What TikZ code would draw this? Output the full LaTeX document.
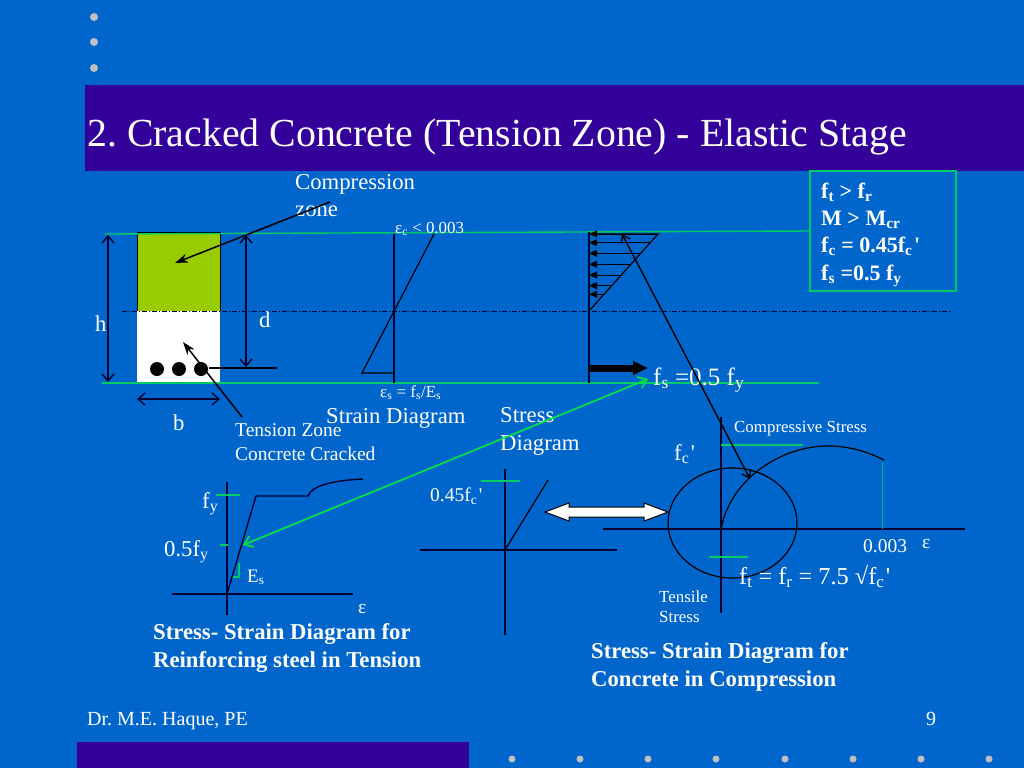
\documentclass[tikz,border=0pt]{standalone}
\usepackage{fontspec}
\setmainfont{Liberation Serif}
\usetikzlibrary{arrows.meta}

\definecolor{slidebg}{HTML}{0066CC}
\definecolor{barcol}{HTML}{330099}
\definecolor{dotcol}{HTML}{C0C0C0}
\definecolor{zonecol}{HTML}{99CC00}
\definecolor{edgecol}{HTML}{00CC66}
\definecolor{linkcol}{HTML}{00E840}
\definecolor{inkcol}{HTML}{000033}

\newcommand{\prm}{\kern1.5pt\textquotesingle}
\frenchspacing

\tikzset{
	lbl/.style={anchor=base west, inner sep=0pt, text=white, align=left},
	lblhuge/.style={lbl, font=\fontsize{24.3}{28}\selectfont},
	lblbig/.style={lbl, font=\fontsize{22.7}{28}\selectfont},
	lblmid/.style={lbl, font=\fontsize{19.5}{24}\selectfont},
	lblsmall/.style={lbl, font=\fontsize{16.9}{20}\selectfont},
	lblbold/.style={lbl, font=\fontsize{22.7}{27.7}\selectfont\bfseries},
	lblfoot/.style={lbl, font=\fontsize{20}{24}\selectfont},
	axis/.style={draw=inkcol, line width=1.4pt},
	thin line/.style={draw=black, line width=1.2pt},
	guide/.style={draw=edgecol, line width=1.4pt},
	dimarrow/.style={inkcol, line width=1.4pt, <->, >={Straight Barb[length=7,width=12]}},
	openarrow/.style={black, line width=1.4pt, <->, >={Straight Barb[length=7,width=10]}},
	linkarrow/.style={linkcol, line width=1.6pt, <->, >={Straight Barb[length=8,width=12]}},
	solidarrow/.style={black, line width=1.5pt, -{Stealth[length=13,width=9]}},
	forcearrow/.style={black, line width=1pt, -{Triangle[length=8,width=7]}}
}

\begin{document}
\begin{tikzpicture}[x=1pt, y=-1pt]
\useasboundingbox (0, 0) rectangle (1024, 768);
\fill[slidebg] (0, 0) rectangle (1024, 768);

% slide furniture
\fill[barcol] (85, 85) rectangle (1024, 171);
\fill[barcol] (77, 742) rectangle (469, 768);
\foreach \ya in {17, 42, 68} {
	\fill[dotcol] (94, \ya) circle (4);
}
\foreach \xa in {512, 580, 648, 716, 785, 853, 921, 989} {
	\fill[dotcol] (\xa, 759) circle (3.5);
}
\node[lbl, font=\fontsize{39.8}{44}\selectfont] (title) at (87, 146) {2. Cracked Concrete (Tension Zone) - Elastic Stage};
\node[lblfoot] (author) at (87, 725) {Dr. M.E. Haque, PE};
\node[lblfoot] (pageno) at (926, 725) {9};

% beam section
\fill[zonecol] (137, 232) rectangle (220, 311);
\fill[white] (137, 311) rectangle (220, 382);
\draw[black, line width=1pt] (137, 311) -- (137, 232) -- (220, 232) -- (220, 311);
\foreach \xa in {157, 179, 201} {
	\fill[black] (\xa, 369) circle (7);
}
\draw[guide] (105, 234) -- (810, 231);
\draw[guide] (102, 383) -- (819, 383);
\draw[inkcol, line width=0.8pt, dash pattern=on 5pt off 2pt on 1pt off 2pt] (122, 311) -- (950, 311);

\draw[dimarrow] (108, 235) -- (108, 382);
\draw[dimarrow] (246, 235) -- (246, 367);
\draw[dimarrow] (137, 399) -- (220, 399);
\draw[thin line] (209, 368) -- (277, 368);
\node[lblbig] (hlabel) at (95, 331) {h};
\node[lblbig] (dlabel) at (259, 327) {d};
\node[lblbig] (blabel) at (173, 430) {b};

\node[lbl, font=\fontsize{22.7}{27.5}\selectfont] (zonelabel) at (295, 216.5) {Compression\\zone};
\node[lblmid] (tensionlabel) at (235, 460) {Tension Zone\\Concrete Cracked};
\coordinate (zonetail) at (330, 202);
\coordinate (zonetip) at (175, 263);
\coordinate (tensiontail) at (242, 417);
\coordinate (tensiontip) at (183, 342);
\draw[solidarrow] (zonetail) -- (zonetip);
\draw[solidarrow] (tensiontail) -- (tensiontip);

% strain diagram
\draw[axis] (394, 234) -- (394, 383);
\draw[thin line] (434, 234) -- (362, 373) -- (394, 373);
\node[lblsmall] (straintop) at (395, 233) {ε\textsubscript{c} < 0.003};
\node[lblsmall] (strainbot) at (380, 397) {ε\textsubscript{s} = f\textsubscript{s}/E\textsubscript{s}};
\node[lblbig] (strainlabel) at (326, 423) {Strain Diagram};

% stress diagram
\draw[axis] (589, 232) -- (589, 383);
\draw[thin line] (589, 234) -- (658, 234) -- (589, 311);
\foreach \ya in {234, 242.7, 253.3, 264.3, 275, 285.7, 294.3} {
	\pgfmathsetmacro{\xa}{658 - (\ya - 234) * 69 / 77}
	\draw[forcearrow] (\xa, \ya) -- (589, \ya);
}
\draw[black, line width=7pt, -{Triangle[length=15,width=13]}] (589, 368) -- (648, 368);
\node[lbl, font=\fontsize{25}{28}\selectfont] (steellabel) at (653, 385) {f\textsubscript{s} =0.5 f\textsubscript{y}};
\node[lblbig] (stresslabel) at (500, 450) {Stress\\Diagram};

% conditions box
\node[lbl, font=\fontsize{22}{27.3}\selectfont\bfseries] (condtext) at (821, 280) {f\textsubscript{t} > f\textsubscript{r}\\M > M\textsubscript{cr}\\f\textsubscript{c} = 0.45f\textsubscript{c}\prm\\f\textsubscript{s} =0.5 f\textsubscript{y}};
\draw[guide, line width=1.8pt] (810, 171) rectangle (956, 291);

% steel stress-strain
\draw[axis] (227, 482) -- (227, 615);
\draw[axis] (172, 594) -- (353, 594);
\draw[axis] (227, 594) -- (256, 496) -- (308, 496) .. controls (312, 484) and (340, 480) .. (363, 479);
\draw[guide] (216, 495) -- (240, 495);
\draw[guide] (220, 545) -- (228, 545);
\draw[guide] (239, 563) -- (239, 577) -- (233, 577);
\node[lblbig] (fylabel) at (202, 508) {f\textsubscript{y}};
\node[lblbig] (halfylabel) at (164, 556) {0.5f\textsubscript{y}};
\node[lbl, font=\fontsize{19}{22}\selectfont] (eslabel) at (247, 582) {E\textsubscript{s}};
\node[lblmid] (epssteel) at (358, 613) {ε};
\node[lblbold] (steeltitle) at (153, 667.5) {Stress- Strain Diagram for\\Reinforcing steel in Tension};

% concrete tension-compression pair
\draw[axis] (505, 469) -- (505, 635);
\draw[axis] (420, 550) -- (617, 550);
\draw[thin line] (505, 550) -- (548, 480);
\draw[guide] (481, 481) -- (520, 481);
\node[lblmid] (midlabel) at (430, 501) {0.45f\textsubscript{c}\prm};
\draw[black, line width=1pt, fill=white] (545, 512) -- (569, 503) -- (569, 507) -- (644, 507) -- (644, 503) -- (668, 512) -- (644, 521) -- (644, 517) -- (569, 517) -- (569, 521) -- cycle;

% concrete stress-strain
\draw[axis] (721, 417) -- (721, 613);
\draw[axis] (603, 529) -- (965, 529);
\draw[thin line] (732.5, 523) ellipse (64.5 and 55);
\draw[thin line] (721, 529) .. controls (730, 480) and (780, 446) .. (828, 446) .. controls (850, 446) and (868, 452) .. (884, 460);
\draw[draw=edgecol!70!slidebg, line width=0.8pt] (882, 462) -- (882, 529);
\draw[guide] (721, 445) -- (803, 445);
\draw[guide] (709, 557) -- (748, 557);
\node[lblsmall] (complabel) at (734, 432) {Compressive Stress};
\node[lblbig] (fclabel) at (674, 460) {f\textsubscript{c}\prm};
\node[lblmid] (strainval) at (863, 552) {0.003};
\node[lblmid] (epsconc) at (922, 548) {ε};
\node[lblhuge] (ftlabel) at (739, 584) {f\textsubscript{t} = f\textsubscript{r} = 7.5 √f\textsubscript{c}\prm};
\node[lblsmall] (tenslabel) at (659, 622) {Tensile\\Stress};
\node[lblbold] (conctitle) at (591, 686) {Stress- Strain Diagram for\\Concrete in Compression};

% links between diagrams
\coordinate (barpoint) at (648, 379);
\coordinate (curvepoint) at (243, 545);
\coordinate (stresstop) at (622, 234);
\coordinate (peakpoint) at (750, 479);
\draw[linkarrow] (curvepoint) -- (barpoint);
\draw[openarrow] (stresstop) -- (peakpoint);

\end{tikzpicture}
\end{document}
